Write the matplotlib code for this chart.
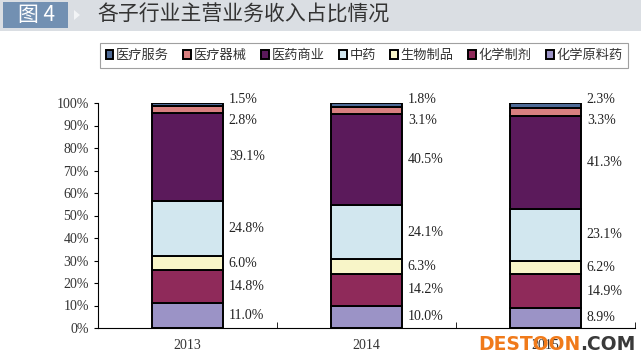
"""
Stacked share chart: revenue share of pharma sub-sectors, 2013-2015
"""

import matplotlib.pyplot as plt
from matplotlib.patches import Rectangle, Polygon
import numpy as np

plt.rcParams['font.family'] = ['Noto Sans CJK SC', 'DejaVu Sans']

years = ['2013', '2014', '2015']
# bottom -> top stacking order
sectors = ['化学原料药', '化学制剂', '生物制品', '中药', '医药商业', '医疗器械', '医疗服务']
shares = {
    '化学原料药': [11.0, 10.0, 8.9],
    '化学制剂': [14.8, 14.2, 14.9],
    '生物制品': [6.0, 6.3, 6.2],
    '中药': [24.8, 24.1, 23.1],
    '医药商业': [39.1, 40.5, 41.3],
    '医疗器械': [2.8, 3.1, 3.3],
    '医疗服务': [1.5, 1.8, 2.3],
}
colors = {
    '化学原料药': '#9b93c6',
    '化学制剂': '#8f2a5a',
    '生物制品': '#f8f5c8',
    '中药': '#d2e7ef',
    '医药商业': '#5b1a5b',
    '医疗器械': '#d98080',
    '医疗服务': '#4e6a96',
}

fig = plt.figure(figsize=(6.41, 3.64), dpi=100)
fig.patch.set_facecolor('white')

# Header band
fig.patches.append(Rectangle((0, 1 - 31 / 364), 1, 31 / 364, transform=fig.transFigure,
                             facecolor='#dadee3', edgecolor='none', zorder=0))
fig.patches.append(Rectangle((3 / 641, 1 - 28 / 364), 65 / 641, 26 / 364, transform=fig.transFigure,
                             facecolor='#7290b2', edgecolor='none', zorder=1))
fig.patches.append(Polygon([(74 / 641, 1 - 10 / 364), (80 / 641, 1 - 15 / 364), (74 / 641, 1 - 20 / 364)],
                           closed=True, transform=fig.transFigure,
                           facecolor='#f2f4f6', edgecolor='none', zorder=1))
fig.text(36 / 641, 1 - 15 / 364, '图 4', color='white', fontsize=15,
         ha='center', va='center')
fig.text(97 / 641, 1 - 15 / 364, '各子行业主营业务收入占比情况', color='#333333',
         fontsize=15, ha='left', va='center')

ax = fig.add_axes([98 / 641, 36 / 364, 537 / 641, 225 / 364])
x = np.arange(len(years))
width = 0.40
bottom = np.zeros(len(years))
handles = []
for s in sectors:
    vals = np.array(shares[s])
    b = ax.bar(x, vals, width, bottom=bottom, color=colors[s], edgecolor='black',
               linewidth=1.4, label=s)
    handles.append(b)
    for i, v in enumerate(vals):
        if s == '医疗服务':
            ypos = 101.5
        elif s == '医疗器械':
            ypos = 92.0
        else:
            ypos = bottom[i] + v / 2
        ax.annotate(f'{v:.1f}%', xy=(x[i] + width / 2, ypos), xytext=(4, 0),
                    textcoords='offset points', ha='left', va='center',
                    fontsize=10, family='Liberation Serif', color='#222222',
                    annotation_clip=False)
    bottom += vals

ax.set_xlim(-0.5, 2.5)
ax.set_ylim(0, 100)
ax.set_yticks(np.arange(0, 101, 10))
ax.set_yticklabels([f'{v}%' for v in range(0, 101, 10)], family='Liberation Serif',
                   fontsize=10, color='#333333')
ax.set_xticks(x)
ax.set_xticklabels(years, family='Liberation Serif', fontsize=10, color='#333333')
ax.tick_params(axis='x', which='major', length=0, pad=8)
ax.set_xticks([0.5, 1.5, 2.5], minor=True)
ax.tick_params(axis='x', which='minor', direction='in', length=4, color='black')
ax.tick_params(axis='y', direction='out', length=3, color='black')
for side in ['top', 'right']:
    ax.spines[side].set_visible(False)
ax.spines['left'].set_color('black')
ax.spines['bottom'].set_color('black')

# Legend: top of stack first
leg = fig.legend(handles[::-1], sectors[::-1], loc='center', ncol=7, mode='expand',
                 bbox_to_anchor=(93 / 641, 1 - 70 / 364, 542 / 641, 29 / 364),
                 fontsize=9.5, handlelength=0.6, handleheight=0.6, handletextpad=0.2,
                 columnspacing=0.5, fancybox=False, borderpad=0.45)
leg.get_frame().set_edgecolor('#888888')
leg.get_frame().set_linewidth(0.8)
for t in leg.get_texts():
    t.set_color('#333333')

# Watermark
fig.text(580 / 641, 1 - 344 / 364, 'DESTOON', color='#f07a1a', fontsize=13.5,
         fontweight='bold', family='DejaVu Sans', ha='right', va='center')
fig.text(580 / 641, 1 - 344 / 364, '.COM', color='#3a3a3a', fontsize=13.5,
         fontweight='bold', family='DejaVu Sans', ha='left', va='center')

plt.savefig('out.png', dpi=100)
plt.close()
